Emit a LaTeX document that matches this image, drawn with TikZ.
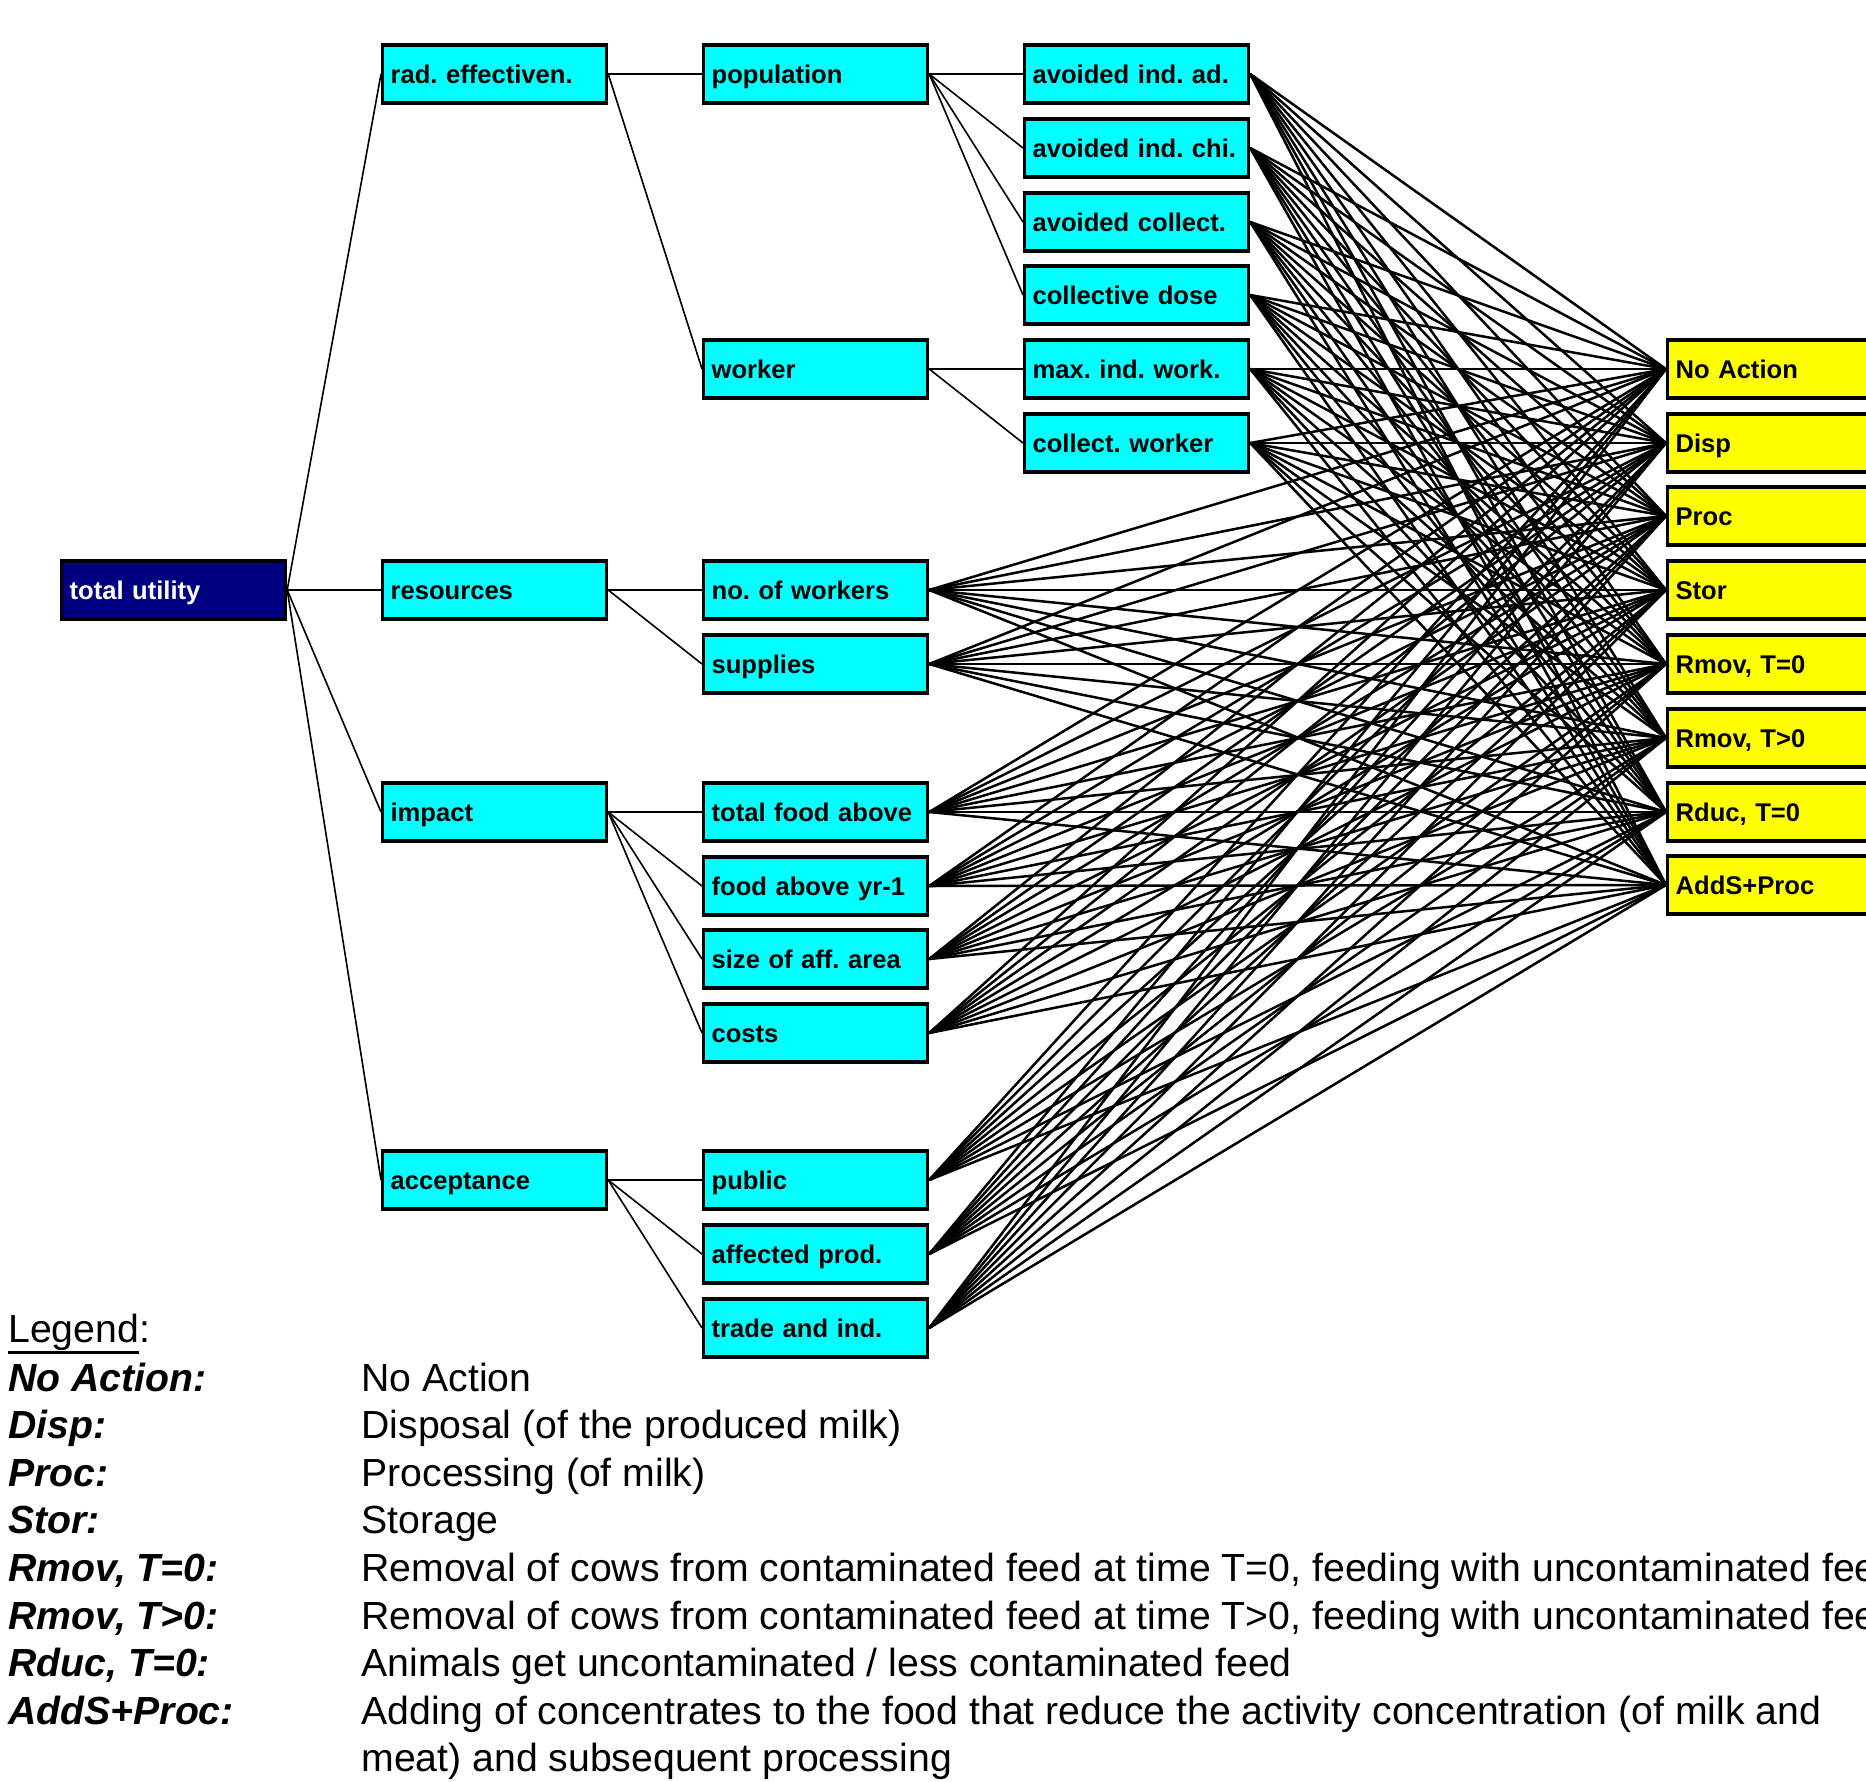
\documentclass[tikz,border=0pt]{standalone}
\usepackage{fontspec}
\setmainfont{Liberation Sans}
\definecolor{critcyan}{RGB}{0,255,255}
\definecolor{rootblue}{RGB}{0,0,128}
\definecolor{altyellow}{RGB}{255,255,0}
\newcommand\legul[1]{\vtop{\hbox{#1}\kern0.6pt\hrule height 1.5pt}}
\frenchspacing
\begin{document}
\begin{tikzpicture}[x=0.5pt, y=-0.5pt,
    crit/.style={draw, line width=1.6pt, fill=critcyan, anchor=west,
      text width=104pt, inner xsep=4pt, inner ysep=0pt, minimum height=29pt,
      text height=11.5pt, text depth=2pt,
      align=left, font=\fontsize{12.8}{15}\selectfont\bfseries},
    root/.style={crit, fill=rootblue, text=white},
    alt/.style={crit, fill=altyellow},
    tree/.style={line width=0.8pt},
    web/.style={line width=1.25pt},
    legtxt/.style={anchor=base west, inner sep=0pt, font=\fontsize{19.6}{23.8}\selectfont},
    leglbl/.style={legtxt, font=\fontsize{19.6}{23.8}\selectfont\bfseries\itshape}]
    \useasboundingbox (0,0) rectangle (1866,1781);
    \clip (0,0) rectangle (1866,1781);

    % objectives hierarchy
    \node[root] (tu) at (60,590) {total utility};

    \node[crit] (rad) at (381,74) {rad. effectiven.};
    \node[crit] (res) at (381,590) {resources};
    \node[crit] (imp) at (381,812) {impact};
    \node[crit] (acc) at (381,1180) {acceptance};

    \node[crit] (pop) at (702,74) {population};
    \node[crit] (wrk) at (702,369) {worker};
    \node[crit] (now) at (702,590) {no. of workers};
    \node[crit] (sup) at (702,664) {supplies};
    \node[crit] (tfa) at (702,812) {total food above};
    \node[crit] (fay) at (702,886) {food above yr-1};
    \node[crit] (saa) at (702,959) {size of aff. area};
    \node[crit] (cst) at (702,1033) {costs};
    \node[crit] (pub) at (702,1180) {public};
    \node[crit] (afp) at (702,1254) {affected prod.};
    \node[crit] (tai) at (702,1328) {trade and ind.};

    \node[crit] (aia) at (1023,74) {avoided ind. ad.};
    \node[crit] (aic) at (1023,148) {avoided ind. chi.};
    \node[crit] (aco) at (1023,222) {avoided collect.};
    \node[crit] (cd) at (1023,295) {collective dose};
    \node[crit] (miw) at (1023,369) {max. ind. work.};
    \node[crit] (cw) at (1023,443) {collect. worker};

    % alternatives
    \foreach \y/\lbl [count=\i] in {369/{No Action}, 443/{Disp}, 516/{Proc},
        590/{Stor}, 664/{Rmov, T=0}, 738/{Rmov, T>0}, 812/{Rduc, T=0}, 885/{AddS+Proc}}
      \node[alt] (a\i) at (1666,\y) {\lbl};

    \foreach \p/\c in {tu/rad, tu/res, tu/imp, tu/acc, rad/pop, rad/wrk,
        pop/aia, pop/aic, pop/aco, pop/cd, wrk/miw, wrk/cw, res/now, res/sup,
        imp/tfa, imp/fay, imp/saa, imp/cst, acc/pub, acc/afp, acc/tai}
      \draw[tree] (\p.east) -- (\c.west);

    \foreach \l in {aia, aic, aco, cd, miw, cw, now, sup, tfa, fay, saa, cst, pub, afp, tai}
      \foreach \a in {1,...,8}
        \draw[web] (\l.east) -- (a\a.west);

    % legend
    \node[legtxt] (leg) at (8,1342) {\legul{Legend}:};
    \node[leglbl] (l1) at (8,1391) {No Action:};
    \node[legtxt] (d1) at (361,1391) {No Action};
    \node[leglbl] (l2) at (8,1438.6) {Disp:};
    \node[legtxt] (d2) at (361,1438.6) {Disposal (of the produced milk)};
    \node[leglbl] (l3) at (8,1486.2) {Proc:};
    \node[legtxt] (d3) at (361,1486.2) {Processing (of milk)};
    \node[leglbl] (l4) at (8,1533.8) {Stor:};
    \node[legtxt] (d4) at (361,1533.8) {Storage};
    \node[leglbl] (l5) at (8,1581.4) {Rmov, T=0:};
    \node[legtxt] (d5) at (361,1581.4) {Removal of cows from contaminated feed at time T=0, feeding with uncontaminated feed};
    \node[leglbl] (l6) at (8,1629) {Rmov, T>0:};
    \node[legtxt] (d6) at (361,1629) {Removal of cows from contaminated feed at time T>0, feeding with uncontaminated feed};
    \node[leglbl] (l7) at (8,1676.6) {Rduc, T=0:};
    \node[legtxt] (d7) at (361,1676.6) {Animals get uncontaminated / less contaminated feed};
    \node[leglbl] (l8) at (8,1724.2) {AddS+Proc:};
    \node[legtxt] (d8) at (361,1724.2) {Adding of concentrates to the food that reduce the activity concentration (of milk and};
    \node[legtxt] (d8b) at (361,1771.8) {meat) and subsequent processing};
  \end{tikzpicture}
\end{document}
